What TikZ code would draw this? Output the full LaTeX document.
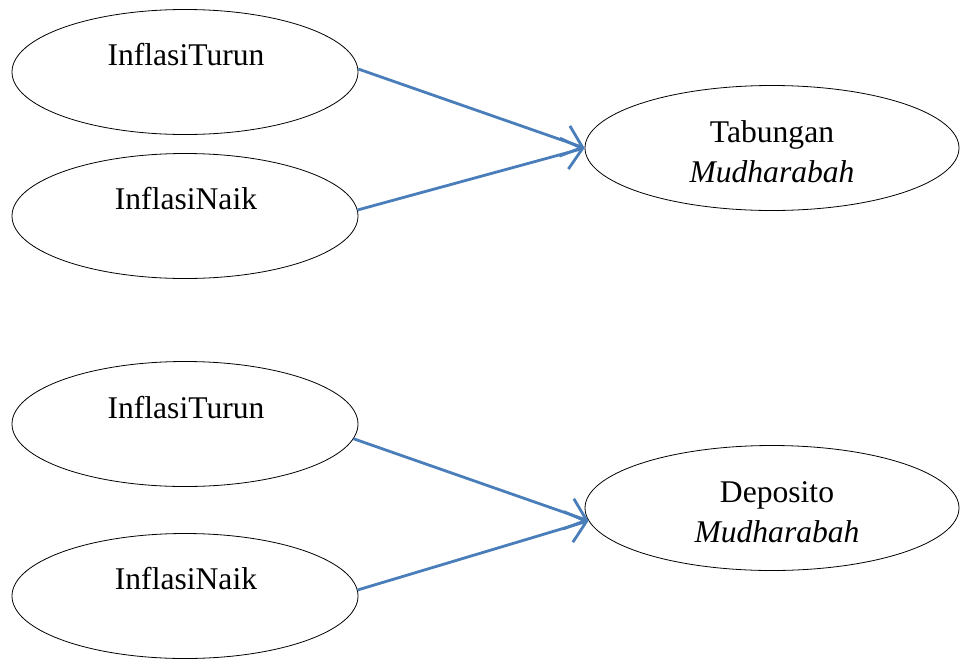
\documentclass[tikz,border=0pt]{standalone}
\usepackage{fontspec}
\setmainfont{Liberation Serif}
\usetikzlibrary{shapes.geometric,arrows.meta}
\definecolor{arrowblue}{HTML}{4A7EBB}
\tikzset{
  oval/.style={draw=black, line width=0.8pt, ellipse, inner sep=0pt, minimum height=125pt},
  leftoval/.style={oval, minimum width=346pt},
  rightoval/.style={oval, minimum width=374pt},
  lbl/.style={anchor=base, inner sep=0pt, font=\fontsize{31.6}{40}\selectfont},
  link/.style={draw=arrowblue, line width=2.8pt, -{Straight Barb[length=19pt,width=32pt,line width=2.8pt]}}
}
\begin{document}
\begin{tikzpicture}[x=1pt,y=-1pt]
\useasboundingbox (0,0) rectangle (960,659);
% top group
\node[leftoval] (a1) at (185,72) {};
\node[leftoval] (a2) at (185,216) {};
\node[rightoval] (ta) at (772,148) {};
\node[lbl] (a1t) at (186,65) {InflasiTurun};
\node[lbl] (a2t) at (186,209) {InflasiNaik};
\node[lbl] (tat1) at (772,142) {Tabungan};
\node[lbl] (tat2) at (772,182) {\itshape Mudharabah};
\draw[link] (a1.1) -- (ta.west);
\draw[link] (a2.2) -- (ta.west);
% bottom group
\node[leftoval] (b1) at (185,424) {};
\node[leftoval] (b2) at (185,596) {};
\node[rightoval] (de) at (772,508) {};
\node[lbl] (b1t) at (186,418) {InflasiTurun};
\node[lbl] (b2t) at (186,589) {InflasiNaik};
\node[lbl] (det1) at (777,502) {Deposito};
\node[lbl] (det2) at (777,542) {\itshape Mudharabah};
\draw[link] (b1.-5) -- (de.184);
\draw[link] (b2.2) -- (de.184);
\end{tikzpicture}
\end{document}
